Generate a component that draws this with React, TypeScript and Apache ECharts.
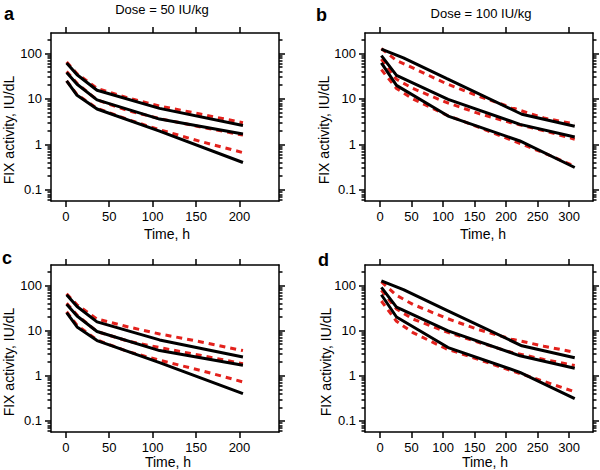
import React, { useEffect, useRef } from "react";
import * as echarts from "echarts";

// ---- Dose = 50 IU/kg (panels a, c) ----
const timesBlack50 = [1, 13, 36, 108, 204];
const blackHigh50 = [62, 34, 15.5, 6.2, 2.6];
const blackMid50 = [38, 21, 9.5, 3.6, 1.7];
const blackLow50 = [25, 12, 6.0, 1.95, 0.4];

const timesRed50 = [1, 13, 36, 72, 108, 156, 204];
const redHighA = [65, 36, 17, 10.5, 7.0, 4.6, 3.0];
const redMidA = [40, 22, 9.5, 5.5, 3.7, 2.4, 1.6];
const redLowA = [25, 12.5, 6.2, 3.5, 2.1, 1.15, 0.66];
const redHighC = [65, 37, 18, 12, 8.4, 5.6, 3.6];
const redMidC = [40, 22, 9.5, 5.8, 4.2, 2.8, 1.85];
const redLowC = [26, 13, 6.2, 3.4, 2.2, 1.3, 0.73];

// ---- Dose = 100 IU/kg (panels b, d) ----
const timesBlackHigh100 = [2, 37, 106, 225, 309];
const blackHigh100 = [125, 80, 28, 4.6, 2.5];
const timesBlackMidLow100 = [2, 26, 108, 222, 309];
const blackMid100 = [90, 33, 9.8, 2.76, 1.46];
const blackLow100 = [62, 19.9, 4.2, 1.19, 0.31];

const timesRed100 = [2, 26, 52, 104, 156, 208, 260, 309];
const redHighB = [128, 70, 48, 22, 11.5, 6.5, 3.8, 2.8];
const redMidB = [75, 27, 17, 8.5, 4.8, 3.0, 2.0, 1.3];
const redLowB = [44, 17, 10, 4.5, 2.4, 1.25, 0.65, 0.33];
const redHighD = [120, 60, 38, 19, 10.5, 6.5, 4.5, 3.3];
const redMidD = [78, 30, 18, 9.5, 5.5, 3.3, 2.3, 1.68];
const redLowD = [45, 16, 9, 4.0, 2.3, 1.3, 0.75, 0.44];

// ---- Axis ticks ----
const xTicks50 = [0, 50, 100, 150, 200];
const xTopTicks50 = [0, 50, 100, 150, 200];
const xTicks100 = [0, 50, 100, 150, 200, 250, 300];
const xTopTicks100 = [0, 100, 200, 300];
const yMajorTicks = [0.1, 1, 10, 100];
const yTickLabels = ["0.1", "1", "10", "100"];

const titles = ["Dose = 50 IU/kg", "Dose = 100 IU/kg"];
const panelLetters = ["a", "b", "c", "d"];
const yTitle = "FIX activity, IU/dL";
const xTitle = "Time, h";

const FONT = "Liberation Sans, Arial, Helvetica, sans-serif";
const RED = "#e3211c";

export default function App() {
  const ref = useRef<HTMLDivElement>(null);

  useEffect(() => {
    document.body.style.margin = "0";
    if (!ref.current) return;
    const chart = echarts.init(ref.current, null, { renderer: "svg" });

    const yMin = -1.245;
    const yMax = 2.45;
    const majorLog = yMajorTicks.map((v) => Math.log10(v));
    const minorLog: number[] = [];
    for (let d = -2; d <= 2; d++) {
      for (let m = 2; m <= 9; m++) {
        const l = Math.log10(m * Math.pow(10, d));
        if (l > yMin && l < yMax) minorLog.push(l);
      }
    }

    const panels = [
      { left: 51, top: 33, width: 228, height: 168, xmin: -17, xmax: 245.5, ticks: xTicks50, top_: xTopTicks50,
        black: [[timesBlack50, blackHigh50], [timesBlack50, blackMid50], [timesBlack50, blackLow50]],
        red: [[timesRed50, redHighA], [timesRed50, redMidA], [timesRed50, redLowA]] },
      { left: 365, top: 33, width: 228, height: 168, xmin: -24, xmax: 338, ticks: xTicks100, top_: xTopTicks100,
        black: [[timesBlackHigh100, blackHigh100], [timesBlackMidLow100, blackMid100], [timesBlackMidLow100, blackLow100]],
        red: [[timesRed100, redHighB], [timesRed100, redMidB], [timesRed100, redLowB]] },
      { left: 51, top: 265, width: 228, height: 167, xmin: -17, xmax: 245.5, ticks: xTicks50, top_: xTopTicks50,
        black: [[timesBlack50, blackHigh50], [timesBlack50, blackMid50], [timesBlack50, blackLow50]],
        red: [[timesRed50, redHighC], [timesRed50, redMidC], [timesRed50, redLowC]] },
      { left: 365, top: 265, width: 228, height: 167, xmin: -24, xmax: 338, ticks: xTicks100, top_: xTopTicks100,
        black: [[timesBlackHigh100, blackHigh100], [timesBlackMidLow100, blackMid100], [timesBlackMidLow100, blackLow100]],
        red: [[timesRed100, redHighD], [timesRed100, redMidD], [timesRed100, redLowD]] },
    ];

    const grid: any[] = [];
    const xAxis: any[] = [];
    const yAxis: any[] = [];
    const series: any[] = [];
    const tickStyle = { color: "#000", width: 1.5 };
    const lineOn = { show: true, onZero: false, lineStyle: { color: "#000", width: 1.5 } };
    const lineOff = { show: false, onZero: false };

    panels.forEach((p, i) => {
      grid.push({ left: p.left, top: p.top, width: p.width, height: p.height });
      const xb = xAxis.length;
      xAxis.push({
        type: "value", gridIndex: i, position: "bottom", min: p.xmin, max: p.xmax,
        axisLine: lineOn, splitLine: { show: false },
        axisTick: { show: true, length: 6, lineStyle: tickStyle, customValues: p.ticks },
        axisLabel: { show: true, margin: 9, fontSize: 13, color: "#000", fontFamily: FONT, customValues: p.ticks },
      });
      xAxis.push({
        type: "value", gridIndex: i, position: "top", min: p.xmin, max: p.xmax,
        axisLine: lineOn, splitLine: { show: false },
        axisTick: { show: true, length: 6, lineStyle: tickStyle, customValues: p.top_ },
        axisLabel: { show: false },
      });
      const yl = yAxis.length;
      const mk = (position: string, len: number, vals: number[], labels: boolean, line: boolean) => ({
        type: "value", gridIndex: i, position, min: yMin, max: yMax, offset: 0,
        axisLine: line ? lineOn : lineOff, splitLine: { show: false },
        axisTick: { show: true, length: len, lineStyle: tickStyle, customValues: vals },
        axisLabel: labels
          ? { show: true, margin: 9, fontSize: 13, color: "#000", fontFamily: FONT, customValues: majorLog,
              formatter: (v: number) => { const k = majorLog.findIndex((m) => Math.abs(m - v) < 1e-6); return k >= 0 ? yTickLabels[k] : ""; } }
          : { show: false },
      });
      yAxis.push(mk("left", 6, majorLog, true, true));
      yAxis.push(mk("left", 3.5, minorLog, false, false));
      yAxis.push(mk("right", 6, majorLog, false, true));
      yAxis.push(mk("right", 3.5, minorLog, false, false));

      p.red.forEach(([t, v]) => {
        series.push({
          type: "line", xAxisIndex: xb, yAxisIndex: yl, showSymbol: false, symbol: "none",
          data: (t as number[]).map((x, k) => [x, Math.log10((v as number[])[k])]),
          lineStyle: { color: RED, width: 3, type: [6, 5] }, z: 2,
        });
      });
      p.black.forEach(([t, v]) => {
        series.push({
          type: "line", xAxisIndex: xb, yAxisIndex: yl, showSymbol: false, symbol: "none",
          data: (t as number[]).map((x, k) => [x, Math.log10((v as number[])[k])]),
          lineStyle: { color: "#000", width: 3 }, z: 3,
        });
      });
    });

    const txt = (text: string, x: number, y: number, opts: any = {}) => ({
      type: "text", x, y, rotation: opts.rotation || 0,
      style: { text, fill: "#000", font: opts.font || `13px ${FONT}`, textAlign: opts.align || "center", textVerticalAlign: "middle" },
    });

    const graphic: any[] = [
      txt(titles[0], 162, 9),
      txt(titles[1], 481, 13),
      txt(panelLetters[0], 4, 14, { font: `bold 18px ${FONT}`, align: "left" }),
      txt(panelLetters[1], 316, 15, { font: `bold 18px ${FONT}`, align: "left" }),
      txt(panelLetters[2], 2, 258, { font: `bold 18px ${FONT}`, align: "left" }),
      txt(panelLetters[3], 318, 260, { font: `bold 18px ${FONT}`, align: "left" }),
      txt(yTitle, 9, 130, { rotation: Math.PI / 2, font: `14px ${FONT}` }),
      txt(yTitle, 324, 130, { rotation: Math.PI / 2, font: `14px ${FONT}` }),
      txt(yTitle, 9, 362, { rotation: Math.PI / 2, font: `14px ${FONT}` }),
      txt(yTitle, 326, 362, { rotation: Math.PI / 2, font: `14px ${FONT}` }),
      txt(xTitle, 167, 234, { font: `14px ${FONT}` }),
      txt(xTitle, 483, 234, { font: `14px ${FONT}` }),
      txt(xTitle, 168, 462, { font: `14px ${FONT}` }),
      txt(xTitle, 485, 462, { font: `14px ${FONT}` }),
    ];

    chart.setOption({ animation: false, backgroundColor: "#fff", grid, xAxis, yAxis, series, graphic });
    return () => chart.dispose();
  }, []);

  return <div ref={ref} style={{ width: 600, height: 470 }} />;
}
